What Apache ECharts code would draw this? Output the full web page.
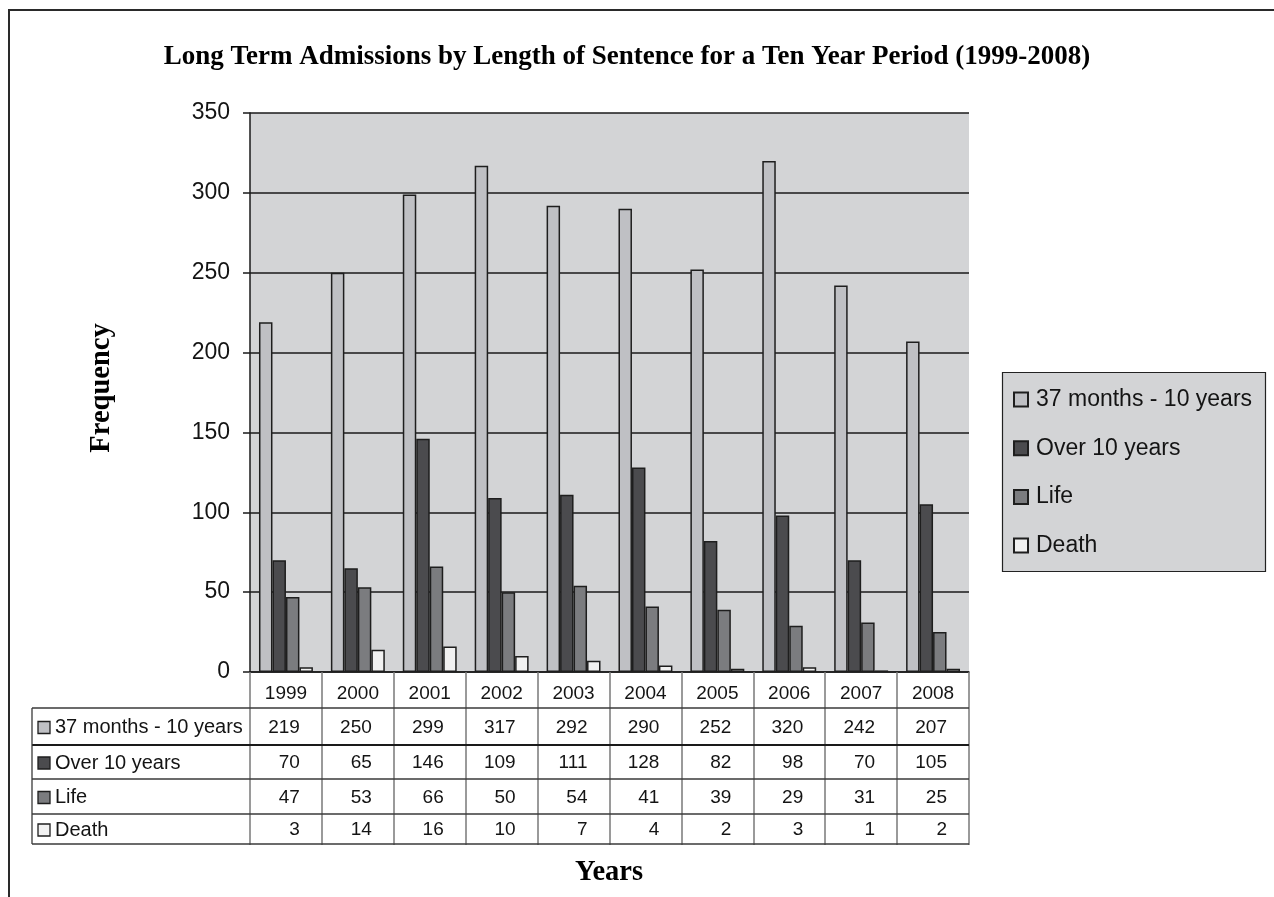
<!DOCTYPE html>
<html>
<head>
<meta charset="utf-8">
<title>Long Term Admissions by Length of Sentence</title>
<script src="https://cdn.jsdelivr.net/npm/echarts@6/dist/echarts.min.js"></script>
<style>
  html, body { margin: 0; padding: 0; background: #ffffff; }
  #chart { width: 1274px; height: 897px; }
</style>
</head>
<body>
<div id="chart"></div>
<script>
// Admissions per year, split by length of sentence
const years = ['1999', '2000', '2001', '2002', '2003', '2004', '2005', '2006', '2007', '2008'];
const seriesNames = ['37 months - 10 years', 'Over 10 years', 'Life', 'Death'];
const midTerm = [219, 250, 299, 317, 292, 290, 252, 320, 242, 207];
const overTen = [70, 65, 146, 109, 111, 128, 82, 98, 70, 105];
const life = [47, 53, 66, 50, 54, 41, 39, 29, 31, 25];
const death = [3, 14, 16, 10, 7, 4, 2, 3, 1, 2];
const yTicks = { min: 0, max: 350, step: 50 };

const seriesData = [midTerm, overTen, life, death];
const seriesColors = ['#bfc0c4', '#4b4b4e', '#7b7c7f', '#f1f1f1'];

const SANS = '"Liberation Sans", Arial, sans-serif';
const SERIF = '"Liberation Serif", "Times New Roman", serif';
const INK = '#141414';

const chart = echarts.init(document.getElementById('chart'), null, { renderer: 'canvas' });

const baseOption = {
  animation: false,
  backgroundColor: '#ffffff',
  grid: {
    left: 250, right: 305, top: 113, bottom: 225,
    show: true, backgroundColor: '#d3d4d6', borderWidth: 0
  },
  legend: {
    orient: 'vertical',
    left: 1008, top: 383,
    icon: 'rect',
    itemWidth: 14, itemHeight: 14, itemGap: 25.7,
    textStyle: { fontFamily: SANS, fontSize: 23, lineHeight: 23, color: INK, padding: [0, 0, 0, 3] },
    selectedMode: false
  },
  xAxis: {
    type: 'category',
    data: years,
    axisLine: { lineStyle: { color: '#1a1a1a', width: 1.5 } },
    axisTick: { show: true, length: 173, lineStyle: { color: '#7a7a7a', width: 1.5 } },
    axisLabel: { fontFamily: SANS, fontSize: 19, color: INK, margin: 12 },
    splitLine: { show: false }
  },
  yAxis: {
    type: 'value',
    min: yTicks.min, max: yTicks.max, interval: yTicks.step,
    axisLine: { show: true, lineStyle: { color: '#1a1a1a', width: 1.5 } },
    axisTick: { show: true, length: 7, lineStyle: { color: '#1a1a1a', width: 1.5 } },
    axisLabel: { fontFamily: SANS, fontSize: 23, color: INK, margin: 20 },
    splitLine: { show: true, lineStyle: { color: '#1a1a1a', width: 1.5 } }
  },
  series: seriesNames.map((name, i) => ({
    name: name,
    type: 'bar',
    data: seriesData[i],
    barGap: '0%',
    barCategoryGap: '25%',
    itemStyle: { color: seriesColors[i], borderColor: '#1e1e1e', borderWidth: 1.5 },
    emphasis: { disabled: true }
  }))
};

chart.setOption(baseOption);

// Data table under the plot, aligned to the category axis
function buildGraphics() {
  const els = [];
  const c0 = chart.convertToPixel({ xAxisIndex: 0 }, years[0]);
  const c1 = chart.convertToPixel({ xAxisIndex: 0 }, years[1]);
  const band = c1 - c0;
  const plotLeft = c0 - band / 2;
  const plotRight = plotLeft + band * years.length;
  const labelLeft = 32;
  const rowLines = [708, 745, 779, 814, 844];

  // outer frame
  els.push({
    type: 'rect', z: 0, silent: true,
    shape: { x: 9, y: 10, width: 1400, height: 1000 },
    style: { fill: null, stroke: '#2a2a2a', lineWidth: 2 }
  });

  // legend box
  els.push({
    type: 'rect', z: 0, silent: true,
    shape: { x: 1002.5, y: 372.5, width: 263, height: 199 },
    style: { fill: '#d3d4d6', stroke: '#222222', lineWidth: 1.2 }
  });

  // horizontal rules of the table
  rowLines.forEach((y, k) => {
    els.push({
      type: 'line', z: 5, silent: true,
      shape: { x1: labelLeft, y1: y, x2: plotRight, y2: y },
      style: { stroke: k === 1 ? '#1a1a1a' : '#3a3a3a', lineWidth: k === 1 ? 2 : 1.3 }
    });
  });
  // left edge of the row-label column
  els.push({
    type: 'line', z: 5, silent: true,
    shape: { x1: labelLeft, y1: rowLines[0], x2: labelLeft, y2: rowLines[rowLines.length - 1] },
    style: { stroke: '#3a3a3a', lineWidth: 1.3 }
  });

  // row labels with colour keys, and the values per year
  seriesNames.forEach((name, r) => {
    const yMid = (rowLines[r] + rowLines[r + 1]) / 2 + 1;
    els.push({
      type: 'rect', z: 6, silent: true,
      shape: { x: 38, y: yMid - 6, width: 12, height: 12 },
      style: { fill: seriesColors[r], stroke: '#1e1e1e', lineWidth: 1.3 }
    });
    els.push({
      type: 'text', z: 6, silent: true,
      style: {
        text: name, x: 55, y: yMid,
        textAlign: 'left', textVerticalAlign: 'middle',
        font: '20px ' + SANS, fill: INK
      }
    });
    seriesData[r].forEach((v, i) => {
      const cx = chart.convertToPixel({ xAxisIndex: 0 }, years[i]);
      els.push({
        type: 'text', z: 6, silent: true,
        style: {
          text: String(v), x: cx + band / 2 - 22, y: yMid,
          textAlign: 'right', textVerticalAlign: 'middle',
          font: '19px ' + SANS, fill: INK
        }
      });
    });
  });

  // title and axis names
  els.push({
    type: 'text', z: 6, silent: true,
    style: {
      text: 'Long Term Admissions by Length of Sentence for a Ten Year Period (1999-2008)',
      x: 627, y: 57, textAlign: 'center', textVerticalAlign: 'middle',
      font: 'bold 27px ' + SERIF, fill: '#000000'
    }
  });
  els.push({
    type: 'text', z: 6, silent: true,
    x: 102, y: 388, rotation: Math.PI / 2,
    style: {
      text: 'Frequency', x: 0, y: 0, textAlign: 'center', textVerticalAlign: 'middle',
      font: 'bold 28.5px ' + SERIF, fill: '#000000'
    }
  });
  els.push({
    type: 'text', z: 6, silent: true,
    style: {
      text: 'Years', x: 609, y: 873, textAlign: 'center', textVerticalAlign: 'middle',
      font: 'bold 28.5px ' + SERIF, fill: '#000000'
    }
  });
  return els;
}

chart.setOption({ graphic: { elements: buildGraphics() } });
</script>
</body>
</html>
